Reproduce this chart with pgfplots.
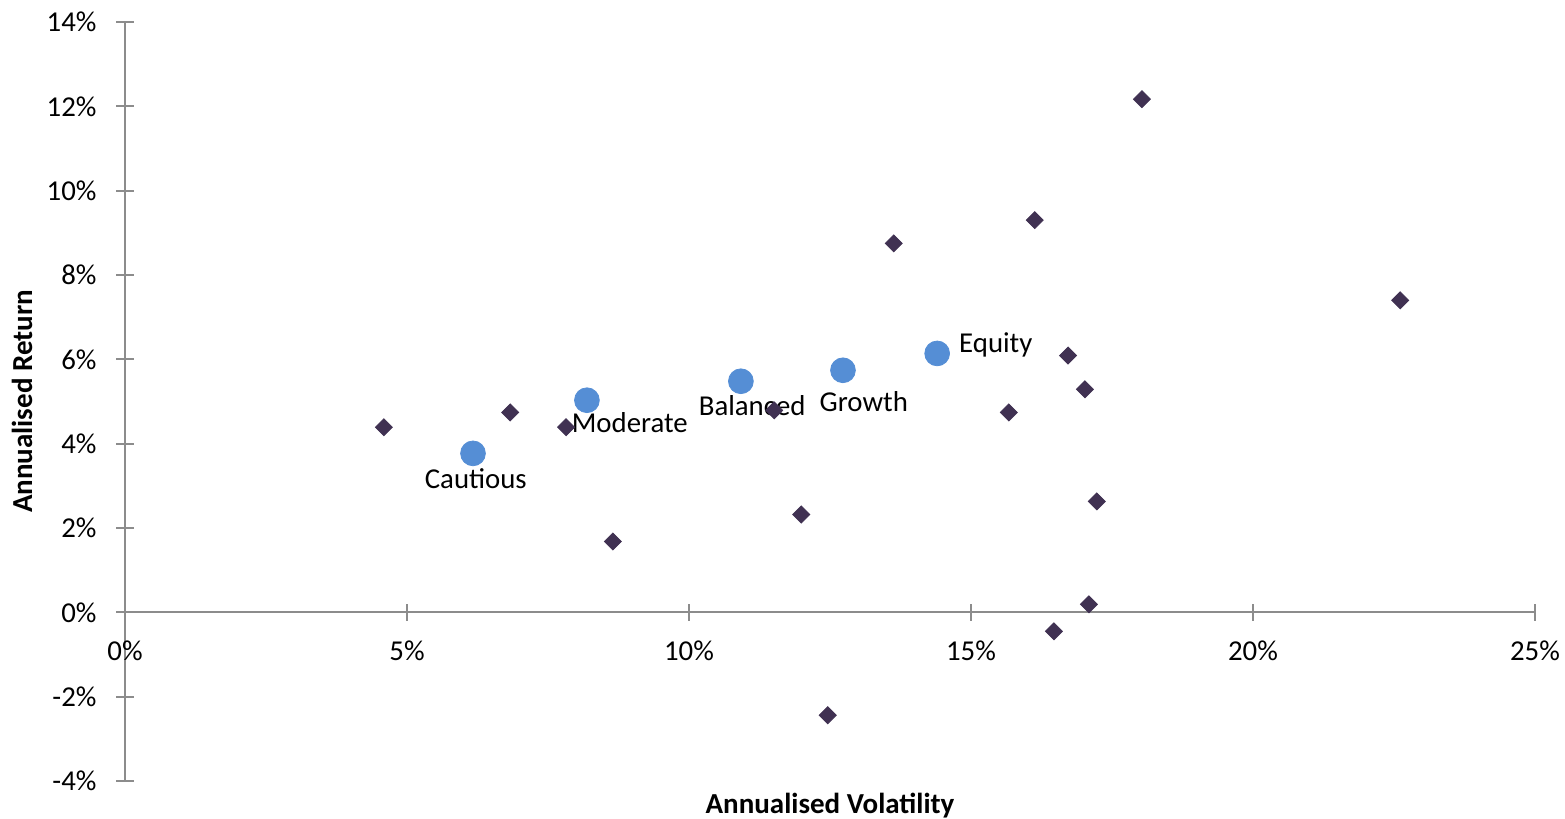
\documentclass[border=0pt]{standalone}
\usepackage{pgfplots}
\pgfplotsset{compat=1.18}
\usepackage{fontspec}
\setmainfont{Carlito}
\definecolor{axisgrey}{HTML}{8C8C8C}
\definecolor{fundblue}{HTML}{558ED5}
\definecolor{assetpurple}{HTML}{403152}
\begin{document}
\fontsize{14.4}{17}\selectfont
\begin{tikzpicture}
\begin{axis}[
name=ax,
at={(0,0)}, anchor=south west,
scale only axis,
width=705pt, height=379.5pt,
xmin=0, xmax=25, ymin=-4, ymax=14,
axis x line*=middle, axis y line*=left,
hide obscured x ticks=false,
axis line style={axisgrey, line width=1pt},
every tick/.style={axisgrey, line width=1pt},
tick align=center,
major tick length=8.5pt,
xtick={0,5,10,15,20,25},
xticklabels={0\%,5\%,10\%,15\%,20\%,25\%},
ytick={-4,-2,0,2,4,6,8,10,12,14},
yticklabels={-4\%,-2\%,0\%,2\%,4\%,6\%,8\%,10\%,12\%,14\%},
tick label style={font=\fontsize{14.4}{17}\selectfont},
xticklabel style={yshift=-5pt},
yticklabel style={xshift=-5pt},
clip=false,
]
% asset classes
\addplot[only marks, mark=square*, mark size=3pt, mark options={rotate=45, fill=assetpurple, draw=assetpurple}] coordinates {
(4.59,4.39) (6.83,4.74) (7.82,4.39) (8.65,1.68) (11.51,4.79) (11.99,2.32)
(12.46,-2.44) (13.63,8.75) (15.67,4.74) (16.13,9.30) (16.47,-0.45)
(16.72,6.09) (17.02,5.29) (17.09,0.19) (17.23,2.63) (18.03,12.17) (22.61,7.40)
};
% model portfolios
\addplot[only marks, mark=*, mark size=6.2pt, mark options={fill=fundblue, draw=fundblue}] coordinates {
(6.17,3.77) (8.19,5.03) (10.92,5.48) (12.73,5.74) (14.40,6.14)
};
\node at (axis cs:6.22,3.16) {Cautious};
\node at (axis cs:8.95,4.50) {Moderate};
\node at (axis cs:11.12,4.91) {Balanced};
\node at (axis cs:13.10,5.00) {Growth};
\node at (axis cs:15.44,6.33) {Equity};
\end{axis}
\node[font=\fontsize{14.5}{17}\selectfont\bfseries] at ([yshift=-12.5pt]ax.south) {Annualised Volatility};
\node[font=\fontsize{14.5}{17}\selectfont\bfseries, rotate=90] at ([xshift=-51.5pt]ax.west) {Annualised Return};
\pgfresetboundingbox
\path[use as bounding box] (ax.south west) ++(-62.5pt,-18.5pt) rectangle ([shift={(15pt,11pt)}]ax.north east);
\end{tikzpicture}
\end{document}
